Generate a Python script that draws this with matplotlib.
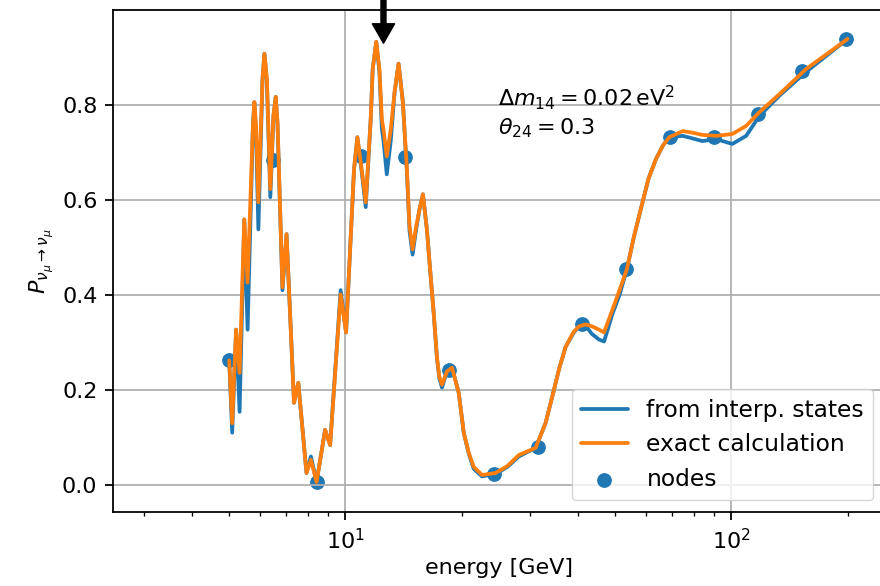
import matplotlib
matplotlib.use("Agg")
import matplotlib.pyplot as plt

# nodes
node_energy = [5.0, 6.5, 8.46, 11.0, 14.3, 18.6, 24.2, 31.5, 41.0, 53.3, 69.3, 90.2, 117.3, 152.6, 198.5]
node_prob = [0.262, 0.684, 0.006, 0.692, 0.690, 0.241, 0.023, 0.080, 0.338, 0.454, 0.732, 0.733, 0.781, 0.872, 0.939]

# traced curves (energy in GeV, survival probability)
energy = [5.0, 5.09, 5.21, 5.32, 5.47, 5.58, 5.76, 5.81, 5.87, 5.95, 6.10, 6.17, 6.26, 6.39,
          6.51, 6.60, 6.67, 6.87, 7.04, 7.36, 7.55, 7.93, 8.14, 8.42, 8.86, 9.13, 9.72, 10.04,
          10.53, 10.74, 11.02, 11.29, 11.63, 11.77, 12.02, 12.25, 12.43, 12.55, 12.80, 13.11,
          13.41, 13.73, 14.09, 14.43, 14.66, 14.93, 15.26, 15.56, 15.88, 16.26, 16.60, 16.93,
          17.26, 17.51, 17.79, 18.33, 18.89, 19.66, 20.26, 20.87, 21.50, 22.59, 24.48, 26.3,
          28.14, 31.10, 33.0, 34.35, 35.8, 37.21, 39.0, 40.29, 41.94, 43.5, 45.41, 46.79, 49.18,
          51.3, 53.59, 56.0, 58.85, 61.0, 63.75, 66.5, 69.02, 74.72, 79.0, 84.10, 91.26, 100.6,
          109.2, 118.2, 133.3, 156.3, 200.0]
exact_prob = [0.262, 0.130, 0.327, 0.236, 0.559, 0.426, 0.756, 0.806, 0.756, 0.595, 0.855, 0.908,
              0.855, 0.623, 0.777, 0.817, 0.764, 0.416, 0.528, 0.173, 0.215, 0.025, 0.053, 0.006,
              0.116, 0.084, 0.401, 0.321, 0.665, 0.732, 0.665, 0.595, 0.770, 0.876, 0.933, 0.876,
              0.770, 0.749, 0.692, 0.749, 0.827, 0.887, 0.806, 0.665, 0.545, 0.496, 0.545, 0.580,
              0.612, 0.538, 0.447, 0.363, 0.270, 0.228, 0.211, 0.239, 0.247, 0.194, 0.110, 0.068,
              0.038, 0.021, 0.025, 0.040, 0.063, 0.078, 0.130, 0.186, 0.245, 0.291, 0.322, 0.334,
              0.338, 0.334, 0.327, 0.321, 0.369, 0.410, 0.454, 0.525, 0.595, 0.645, 0.686, 0.715,
              0.732, 0.745, 0.742, 0.737, 0.735, 0.739, 0.756, 0.785, 0.823, 0.876, 0.939]
interp_prob = [0.262, 0.110, 0.327, 0.154, 0.559, 0.327, 0.756, 0.806, 0.740, 0.538, 0.855, 0.908,
               0.850, 0.606, 0.777, 0.817, 0.760, 0.410, 0.528, 0.173, 0.215, 0.025, 0.060, 0.006,
               0.116, 0.084, 0.410, 0.321, 0.665, 0.732, 0.660, 0.585, 0.770, 0.876, 0.933, 0.870,
               0.750, 0.725, 0.654, 0.725, 0.827, 0.887, 0.806, 0.660, 0.535, 0.485, 0.540, 0.580,
               0.612, 0.538, 0.447, 0.363, 0.268, 0.225, 0.205, 0.239, 0.247, 0.194, 0.110, 0.066,
               0.034, 0.018, 0.023, 0.038, 0.060, 0.078, 0.130, 0.186, 0.245, 0.291, 0.320, 0.334,
               0.335, 0.318, 0.306, 0.302, 0.360, 0.400, 0.454, 0.525, 0.595, 0.645, 0.686, 0.715,
               0.732, 0.735, 0.730, 0.724, 0.728, 0.718, 0.735, 0.777, 0.820, 0.870, 0.939]

S = 1.6
plt.rcParams.update({
    "font.size": 10 * S,
    "axes.linewidth": 0.8 * S,
    "xtick.major.size": 3.5 * S, "ytick.major.size": 3.5 * S,
    "xtick.minor.size": 2 * S, "ytick.minor.size": 2 * S,
    "xtick.major.width": 0.8 * S, "ytick.major.width": 0.8 * S,
    "xtick.minor.width": 0.6 * S, "ytick.minor.width": 0.6 * S,
    "xtick.major.pad": 3.5 * S, "ytick.major.pad": 3.5 * S,
    "grid.linewidth": 0.8 * S,
})

fig = plt.figure(figsize=(8.8, 5.86), dpi=100)
ax = fig.add_axes([113 / 880, 1 - 512 / 586, 772 / 880, 502 / 586])

line_kw = dict(lw=2.7, solid_joinstyle="round", solid_capstyle="round")
ax.plot(energy, interp_prob, color="#1f77b4", label="from interp. states", **line_kw)
ax.plot(energy, exact_prob, color="#ff7f0e", label="exact calculation", **line_kw)
ax.scatter(node_energy, node_prob, s=(6 * S) ** 2, color="#1f77b4", label="nodes", zorder=1.5)

ax.set_xscale("log")
ax.set_xlim(2.5, 250)
ax.set_ylim(-0.057, 1.0)
ax.set_yticks([0.0, 0.2, 0.4, 0.6, 0.8])
ax.grid(True)
ax.set_xlabel("energy [GeV]")
ax.set_ylabel(r"$P_{\nu_\mu\to\nu_\mu}$")

ax.text(24.8, 0.845, r"$\Delta m_{14} = 0.02\,\mathrm{eV}^2$" + "\n" + r"$\theta_{24} = 0.3$",
        va="top", ha="left")

ax.annotate("", xy=(12.55, 0.93), xytext=(12.55, 1.15),
            arrowprops=dict(facecolor="black", edgecolor="black", width=3.6, headwidth=16,
                            headlength=14, shrink=0),
            annotation_clip=False)

ax.legend(loc="lower right", fontsize=16.8)

fig.savefig("out.png", dpi=100)
